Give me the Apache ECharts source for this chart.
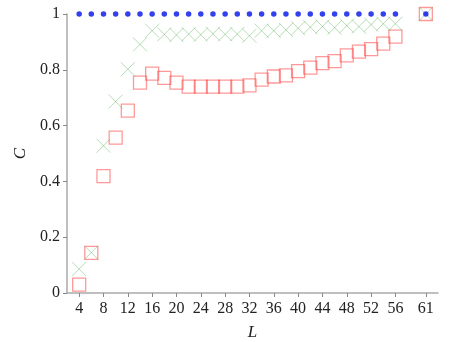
<!DOCTYPE html>
<html>
<head>
<meta charset="utf-8">
<script src="https://cdn.jsdelivr.net/npm/echarts@6/dist/echarts.min.js"></script>
<style>html,body{margin:0;padding:0;background:#fff}#c{width:453px;height:342px}</style>
</head>
<body>
<div id="c"></div>
<script>
const xValues = [4,6,8,10,12,14,16,18,20,22,24,26,28,30,32,34,36,38,40,42,44,46,48,50,52,54,56,61];
const xTicks = [4,8,12,16,20,24,28,32,36,40,44,48,52,56,61];
const yTicks = [0,0.2,0.4,0.6,0.8,1];
const blueDots = [1,1,1,1,1,1,1,1,1,1,1,1,1,1,1,1,1,1,1,1,1,1,1,1,1,1,1,1];
const greenCross = [0.086,0.145,0.528,0.686,0.802,0.891,0.940,0.927,0.925,0.928,0.926,0.929,0.927,0.928,0.922,0.940,0.940,0.943,0.949,0.953,0.955,0.951,0.958,0.955,0.962,0.965,0.965,1.0];
const redSquare = [0.030,0.144,0.419,0.557,0.654,0.754,0.786,0.771,0.754,0.740,0.740,0.740,0.740,0.740,0.744,0.765,0.776,0.780,0.795,0.808,0.824,0.831,0.852,0.865,0.874,0.894,0.919,1.0];

const pair = arr => xValues.map((x,i)=>[x,arr[i]]);
const font = "'Liberation Serif', 'DejaVu Serif', serif";
const chart = echarts.init(document.getElementById('c'));
chart.setOption({
  animation:false,
  backgroundColor:'#fff',
  textStyle:{fontFamily:font},
  grid:{left:67,right:15,top:14,bottom:49,containLabel:false,outerBoundsMode:'none'},
  xAxis:{
    type:'value', min:2, max:63,
    name:'L', nameLocation:'middle', nameGap:31,
    nameTextStyle:{fontFamily:font,fontStyle:'italic',fontSize:17,color:'#222'},
    axisLine:{show:true,lineStyle:{color:'#aaa',width:1.5}},
    axisTick:{show:true,length:4,lineStyle:{color:'#888'},customValues:xTicks},
    axisLabel:{fontFamily:font,fontSize:16,color:'#222',margin:8,customValues:xTicks},
    splitLine:{show:false}
  },
  yAxis:{
    type:'value', min:0, max:1, interval:0.2,
    name:'C', nameLocation:'middle', nameGap:37, nameRotate:90,
    nameTextStyle:{fontFamily:font,fontStyle:'italic',fontSize:17,color:'#222'},
    axisLine:{show:true,lineStyle:{color:'#aaa',width:1.5}},
    axisTick:{show:true,length:4,lineStyle:{color:'#888'}},
    axisLabel:{fontFamily:font,fontSize:16,color:'#222',margin:7,
      formatter:v=>{const t=yTicks.find(k=>Math.abs(k-v)<1e-9);return t===undefined?'':String(+t.toFixed(1));}},
    splitLine:{show:false}
  },
  series:[
    {type:'scatter',data:pair(redSquare),symbol:'rect',symbolSize:13,
      itemStyle:{color:'rgba(255,255,255,0)',borderColor:'rgba(255,60,60,0.65)',borderWidth:1.3}},
    {type:'scatter',data:pair(greenCross),symbol:'path://M0,0L10,10M10,0L0,10',symbolSize:14,
      itemStyle:{color:'none',borderColor:'rgba(90,175,90,0.55)',borderWidth:1}},
    {type:'scatter',data:pair(blueDots),symbol:'circle',symbolSize:5.5,
      itemStyle:{color:'#0010e8'}}
  ]
});
</script>
</body>
</html>
